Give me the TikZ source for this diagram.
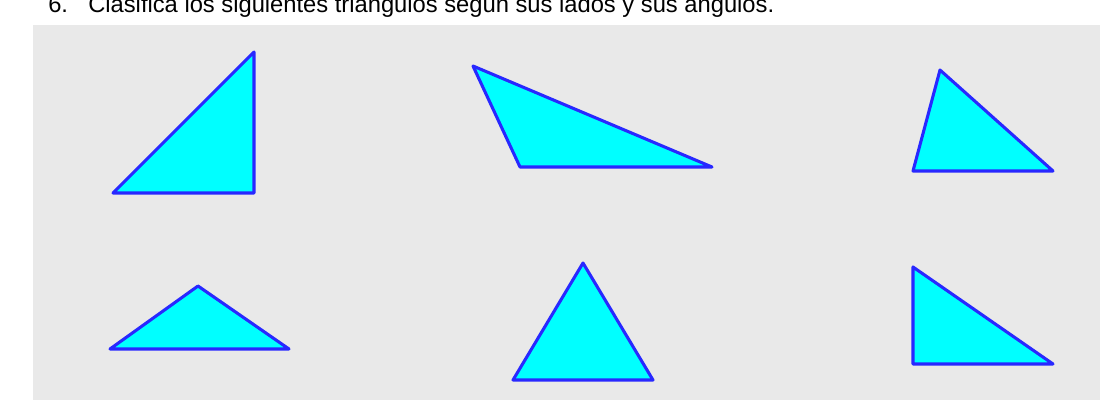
\documentclass[tikz,border=0pt]{standalone}
\usepackage{fontspec}
\setmainfont{Liberation Sans}
\usepackage{xcolor}
\usepackage{tikz}

\definecolor{triblue}{RGB}{40,40,255}
\definecolor{trifill}{RGB}{0,255,255}
\definecolor{sheetgray}{RGB}{233,233,233}

\begin{document}
\begin{tikzpicture}[
    x=0.75pt, y=-0.75pt,
    sheet/.style={fill=sheetgray, draw=none},
    tri/.style={draw=triblue, fill=trifill, line width=2.3pt,
                line join=round, line cap=round},
    heading/.style={font=\fontsize{17.8}{20}\selectfont,
                    anchor=base west, inner sep=0pt}
]
\useasboundingbox (0,0) rectangle (1100,400);

%% ── Sheet and heading ───────────────────────────────────────────────────────
\fill[sheet] (33,25) rectangle (1100,400);
\node[heading] (num)   at (48,12) {6.};
\node[heading] (title) at (88,12)
      {Clasifica los siguientes triángulos según sus lados y sus ángulos.};

%% ── Top row ─────────────────────────────────────────────────────────────────
\coordinate (t1a) at (113,193);
\coordinate (t1b) at (254,52);
\coordinate (t1c) at (254,193);
\draw[tri] (t1a) -- (t1b) -- (t1c) -- cycle;

\coordinate (t2a) at (473,66);
\coordinate (t2b) at (712,167);
\coordinate (t2c) at (520,167);
\draw[tri] (t2a) -- (t2b) -- (t2c) -- cycle;

\coordinate (t3a) at (940,70);
\coordinate (t3b) at (1053,171);
\coordinate (t3c) at (913,171);
\draw[tri] (t3a) -- (t3b) -- (t3c) -- cycle;

%% ── Bottom row ──────────────────────────────────────────────────────────────
\coordinate (t4a) at (110,349);
\coordinate (t4b) at (198,286);
\coordinate (t4c) at (289,349);
\draw[tri] (t4a) -- (t4b) -- (t4c) -- cycle;

\coordinate (t5a) at (513,380);
\coordinate (t5b) at (583,263);
\coordinate (t5c) at (653,380);
\draw[tri] (t5a) -- (t5b) -- (t5c) -- cycle;

\coordinate (t6a) at (913,267);
\coordinate (t6b) at (1053,364);
\coordinate (t6c) at (913,364);
\draw[tri] (t6a) -- (t6b) -- (t6c) -- cycle;

\end{tikzpicture}
\end{document}
